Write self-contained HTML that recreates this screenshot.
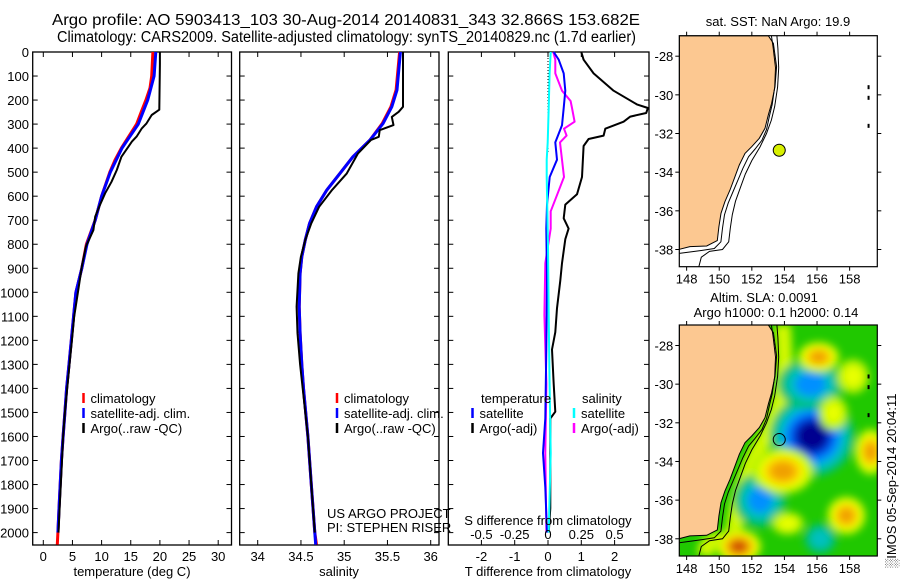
<!DOCTYPE html>
<html><head><meta charset="utf-8"><style>
body{margin:0;background:#fff;}
svg{display:block;font-family:"Liberation Sans",sans-serif;}
text{font-size:13px;fill:#000;}
</style></head><body>
<svg id="fig" width="900" height="580" viewBox="0 0 900 580" xmlns="http://www.w3.org/2000/svg">
<defs>
<filter id="blur" x="-20%" y="-20%" width="140%" height="140%"><feGaussianBlur stdDeviation="4"/></filter>
<clipPath id="mapclip2"><rect x="679.3" y="325" width="198" height="231.7"/></clipPath>
<clipPath id="mapclip1"><rect x="679.3" y="35.7" width="198" height="231"/></clipPath>
</defs>
<text x="52" y="25" textLength="588" lengthAdjust="spacingAndGlyphs" style="font-size:15.5px">Argo profile: AO 5903413_103 30-Aug-2014 20140831_343 32.866S 153.682E</text>
<text x="57" y="42" textLength="579" lengthAdjust="spacingAndGlyphs" style="font-size:15.5px">Climatology: CARS2009. Satellite-adjusted climatology: synTS_20140829.nc (1.7d earlier)</text>
<g id="p1"></g>
<g id="p2"></g>
<g id="p3"></g>
<g id="m1"></g>
<g id="m2"></g>
<text transform="translate(896,568) rotate(-90)">&#x2591;IMOS 05-Sep-2014 20:04:11</text>
</svg>
<script>
// ---- data ----
const depthTicks=[0,100,200,300,400,500,600,700,800,900,1000,1100,1200,1300,1400,1500,1600,1700,1800,1900,2000];
const tempTicks=[0,5,10,15,20,25,30];
const salTicks=[34,34.5,35,35.5,36];
const salTickLabels=["34","34.5","35","35.5","36"];
const tdiffTicks=[-2,-1,0,1,2];
const sdiffTicks=[-0.5,-0.25,0,0.25,0.5];
const sdiffTickLabels=["-0.5","-0.25","0","0.25","0.5"];

const climDepth=[0,100,150,200,250,300,350,400,450,500,600,700,800,900,1000,1100,1200,1300,1400,1500,1600,1700,1800,1900,2000,2050];
const climTemp=[18.8,18.6,18.3,17.6,16.8,16.0,14.7,13.4,12.3,11.4,10.0,8.9,7.4,6.6,5.6,5.2,4.8,4.4,4.0,3.7,3.4,3.1,2.9,2.7,2.5,2.4];
const satDepth=[0,100,200,300,400,500,600,700,800,900,1000,1100,1200,1300,1400,1500,1600,1700,1800,1900,2000];
const satTemp=[19.3,19.0,17.9,16.3,13.5,11.5,10.0,8.9,7.5,6.6,5.6,5.2,4.8,4.4,4.0,3.7,3.4,3.1,2.9,2.7,2.5];
const argoDepth=[0,50,240,262,297,318,352,373,394,436,491,540,588,637,685,741,810,893,990,1100,1200,1300,1400,1500,1600,1700,1800,1900,2000];
const argoTemp=[20.0,20.0,19.9,18.6,17.7,16.9,16.0,15.2,14.6,13.4,12.6,11.7,10.6,9.7,8.9,8.6,7.3,6.6,6.0,5.3,4.9,4.5,4.1,3.7,3.4,3.2,3.0,2.8,2.6];

const sClimDepth=[0,158,228,297,366,436,505,574,644,713,782,852,921,1060,1170,1300,1400,1600,1800,2000,2050];
const sClim=[35.64,35.60,35.54,35.44,35.30,35.10,34.95,34.80,34.68,34.60,34.55,34.51,34.49,34.48,34.49,34.51,34.53,34.58,34.62,34.66,34.68];
const sSat=[35.65,35.61,35.55,35.45,35.30,35.10,34.95,34.80,34.68,34.60,34.55,34.51,34.49,34.48,34.49,34.51,34.53,34.58,34.62,34.66,34.67];
const sArgoDepth=[0,228,249,270,304,325,353,366,422,505,574,644,713,782,852,921,1060,1170,1300,1400,1600,1800,2000];
const sArgo=[35.68,35.68,35.63,35.55,35.57,35.41,35.40,35.31,35.16,35.03,34.86,34.71,34.62,34.55,34.50,34.47,34.45,34.46,34.49,34.52,34.58,34.62,34.66];

const dtArgoDepth=[0,32,89,161,218,233,254,269,290,319,348,362,391,520,592,635,692,735,779,879,951,1066,1166,1238,1382,1497,1525,1669,1899,2000];
const dtArgo=[1.0,1.07,1.37,1.97,2.67,3.0,2.95,2.47,2.27,1.72,1.67,1.22,1.07,1.02,0.87,0.52,0.47,0.62,0.52,0.42,0.37,0.27,0.22,0.12,0.17,0.22,0.07,0.07,0.07,0.02];
const dtSatDepth=[0,32,89,161,233,305,376,448,520,635,735,951,1238,1525,1669,1812,2000];
const dtSat=[0.17,0.32,0.47,0.52,0.47,0.42,0.22,0.27,0.05,-0.03,-0.05,-0.03,-0.05,-0.08,-0.15,-0.08,-0.03];
const dsArgoDepth=[0,32,89,161,204,233,290,319,348,376,448,520,592,663,735,879,1095,1382,1669,2000];
const dsArgo=[0.04,0.055,0.055,0.105,0.17,0.18,0.2,0.12,0.14,0.09,0.105,0.12,0.07,0.02,0.02,-0.02,-0.027,-0.012,-0.02,-0.012];
const dsSatDepth=[0,89,233,376,448,520,807,1095,1382,1669,2000];
const dsSat=[0.02,0.012,0.005,-0.002,-0.01,-0.01,0,0.005,0.012,0.02,0.005];

const latTicks=[-28,-30,-32,-34,-36,-38];
const lonTicks=[148,150,152,154,156,158];
const coastLon=[153.01,153.32,153.52,153.42,153.21,153.01,152.81,152.46,151.99,151.58,151.23,150.97,150.66,150.35,150.11,149.98,149.88,149.23,148.2,147.55];
const coastLat=[-26.94,-27.34,-28.54,-29.58,-30.44,-31.04,-31.73,-32.25,-32.68,-33.03,-33.63,-34.23,-34.92,-35.53,-36.13,-36.82,-37.54,-37.82,-37.85,-37.99];
const iso1Lon=[153.2,153.3,153.45,153.4,153.25,153.08,152.9,152.62,152.2,151.8,151.45,151.15,150.85,150.55,150.32,150.2,150.1,149.7,148.9,147.55];
const iso1Lat=[-26.94,-27.5,-28.6,-29.6,-30.5,-31.1,-31.8,-32.35,-32.8,-33.2,-33.8,-34.4,-35.0,-35.6,-36.2,-36.9,-37.6,-37.95,-38.05,-38.2];
const iso2Lon=[153.54,153.6,153.65,153.58,153.4,153.2,152.9,152.5,152.0,151.6,151.3,151.0,150.8,150.68,150.58,150.2,149.4,148.9,148.75];
const iso2Lat=[-26.94,-27.6,-28.6,-29.6,-30.6,-31.3,-32.0,-32.7,-33.4,-34.1,-34.8,-35.5,-36.2,-36.9,-37.6,-38.0,-38.1,-38.4,-38.88];
const argoLon=[153.682];
const argoLat=[-32.866];
// SLA anomaly blobs: lon, lat, value(-1..1), outer radius in degrees lon/lat
const blobLon=[155.7,155.6,152.5,156.2,153.9,156.1,157.8,151.2,159.3,158.2,157.0,154.2];
const blobLat=[-32.7,-30.0,-36.0,-38.0,-34.5,-28.6,-36.8,-38.4,-33.5,-29.6,-31.5,-37.2];
const blobVal=[-1,-0.6,-0.6,-0.4,0.8,0.75,0.75,1.0,0.7,0.4,0.3,0.3];
const blobRx=[2.6,2.0,1.6,1.0,1.9,1.3,1.2,1.4,1.0,1.0,0.9,1.0];
const blobRy=[2.1,1.3,1.4,0.8,1.2,0.8,1.0,0.9,1.2,0.9,0.9,0.6];

// ---- helpers ----
const NS="http://www.w3.org/2000/svg";
function mk(tag,attrs,parent,txt){const e=document.createElementNS(NS,tag);for(const k in attrs)e.setAttribute(k,attrs[k]);if(txt!==undefined)e.textContent=txt;parent.appendChild(e);return e;}
const TOP=52,BOT=545;
const yD=d=>TOP+d*0.2403;

function drawBox(g,x0,x1){
  const r=mk('rect',{x:x0,y:TOP,width:x1-x0,height:BOT-TOP,fill:'none',stroke:'#000','stroke-width':1.3},g);
  
  
  depthTicks.forEach(d=>{
    const t1=mk('line',{x1:x0,x2:x0+5,y1:yD(d),y2:yD(d),stroke:'#000'},g);
    
    
    const t2=mk('line',{x1:x1-5,x2:x1,y1:yD(d),y2:yD(d),stroke:'#000'},g);
    
    
  });
}
function xTicks(g,vals,labels,fx){
  vals.forEach((v,i)=>{
    const x=fx(v);
    mk('line',{x1:x,x2:x,y1:BOT,y2:BOT-5,stroke:'#000'},g);
    mk('line',{x1:x,x2:x,y1:TOP,y2:TOP+5,stroke:'#000'},g);
    const t=mk('text',{x:x,y:BOT+16,'text-anchor':'middle'},g,labels[i]);
    
    
  });
}
function line(g,xs,ds,fx,color,w,name){
  const pts=xs.map((v,i)=>fx(v).toFixed(1)+','+yD(ds[i]).toFixed(1)).join(' ');
  const p=mk('polyline',{points:pts,fill:'none',stroke:color,'stroke-width':w,'stroke-linejoin':'round'},g);
  
  
}
function legendRow(g,x,y,color,label,name){
  const b=mk('line',{x1:x,x2:x,y1:y-10,y2:y,stroke:color,'stroke-width':2.5},g);
  
  
  const t=mk('text',{x:x+7,y:y},g,label);
  
  
}

// ---- panel 1 ----
const p1=document.getElementById('p1');
const fT=v=>43.3+v*5.83;
drawBox(p1,32.7,231.5);
depthTicks.forEach(d=>{const t=mk('text',{x:29,y:yD(d)+5,'text-anchor':'end'},p1,String(d));
  
  });
xTicks(p1,tempTicks,tempTicks.map(String),fT);
line(p1,climTemp,climDepth,fT,'#ff0000',3,'temp-climatology-line');
line(p1,satTemp,satDepth,fT,'#0000ff',3,'temp-satellite-line');
line(p1,argoTemp,argoDepth,fT,'#000',2,'temp-argo-line');
const xl1=mk('text',{x:132,y:576,'text-anchor':'middle'},p1,'temperature (deg C)');


legendRow(p1,83.5,403,'#ff0000','climatology','legend-climatology');
legendRow(p1,83.5,418,'#0000ff','satellite-adj. clim.','legend-satellite');
legendRow(p1,83.5,433,'#000','Argo(..raw -QC)','legend-argo');

// ---- panel 2 ----
const p2=document.getElementById('p2');
const fS=v=>257.7+(v-34)*86.5;
drawBox(p2,239.7,439);
xTicks(p2,salTicks,salTickLabels,fS);
line(p2,sClim,sClimDepth,fS,'#ff0000',3,'sal-climatology-line');
line(p2,sSat,sClimDepth,fS,'#0000ff',3,'sal-satellite-line');
line(p2,sArgo,sArgoDepth,fS,'#000',2,'sal-argo-line');
const xl2=mk('text',{x:339,y:576,'text-anchor':'middle'},p2,'salinity');


legendRow(p2,337,403,'#ff0000','climatology','legend2-climatology');
legendRow(p2,337,418,'#0000ff','satellite-adj. clim.','legend2-satellite');
legendRow(p2,337,433,'#000','Argo(..raw -QC)','legend2-argo');
const c1=mk('text',{x:327,y:518},p2,'US ARGO PROJECT');


const c2=mk('text',{x:327,y:532},p2,'PI: STEPHEN RISER');



// ---- panel 3 ----
const p3=document.getElementById('p3');
const fdT=v=>548+v*33.3;
const fdS=v=>548+v*133.2;
drawBox(p3,448.3,649);
xTicks(p3,tdiffTicks,tdiffTicks.map(String),fdT);
mk('line',{x1:548,x2:548,y1:TOP,y2:yD(420),stroke:'#000','stroke-dasharray':'1,2'},p3);
line(p3,dtArgo,dtArgoDepth,fdT,'#000',2,'tdiff-argo-line');
line(p3,dsArgo,dsArgoDepth,fdS,'#ff00ff',2,'sdiff-argo-line');
line(p3,dtSat,dtSatDepth,fdT,'#0000ff',2,'tdiff-satellite-line');
line(p3,dsSat,dsSatDepth,fdS,'#00ffff',2,'sdiff-satellite-line');
sdiffTicks.forEach((v,i)=>{const t=mk('text',{x:fdS(v),y:539,'text-anchor':'middle'},p3,sdiffTickLabels[i]);
  
  });
const st=mk('text',{x:548,y:525,'text-anchor':'middle'},p3,'S difference from climatology');


const tt=mk('text',{x:548,y:576,'text-anchor':'middle'},p3,'T difference from climatology');


const lh1=mk('text',{x:481,y:403},p3,'temperature');


const lh2=mk('text',{x:582,y:403},p3,'salinity');


legendRow(p3,472.5,418,'#0000ff','satellite','legend3-t-satellite');
legendRow(p3,472.5,433,'#000','Argo(-adj)','legend3-t-argo');
legendRow(p3,574,418,'#00ffff','satellite','legend3-s-satellite');
legendRow(p3,574,433,'#ff00ff','Argo(-adj)','legend3-s-argo');

// ---- maps ----
const ML=679.3,MR=877.3;
const fLon=v=>ML+(v-147.55)*16.3;
const negCols=['#00c070','#00c0c0','#0090ff','#0040e0','#000090'];
const posCols=['#b0f000','#e8ff00','#ffd000','#f0a000','#d05000'];
function drawMap(g,top,clipId,withSla,title){
  const fLat=v=>top+(-26.94-v)*19.33;
  const H=231;
  const inner=mk('g',{'clip-path':'url(#'+clipId+')'},g);
  const bg=mk('rect',{x:ML,y:top,width:MR-ML,height:H,fill:withSla?'#20c800':'#fff'},inner);
  
  
  if(withSla){
    const bl=mk('g',{filter:'url(#blur)'},inner);
    const strip=mk('polyline',{points:iso2Lon.map((v,i)=>fLon(v+0.35).toFixed(1)+','+fLat(iso2Lat[i]).toFixed(1)).join(' '),fill:'none',stroke:'#d0f800','stroke-width':16},bl);
    
    
    blobVal.forEach((v,i)=>{
      const cx=fLon(blobLon[i]),cy=fLat(blobLat[i]),rx=blobRx[i]*16.3,ry=blobRy[i]*19.33;
      const cols=v<0?negCols:posCols;
      const n=Math.max(1,Math.round(Math.abs(v)*5));
      for(let k=0;k<n;k++){
        const s=1-k/n*0.8;
        const e=mk('ellipse',{cx:cx,cy:cy,rx:rx*s,ry:ry*s,fill:cols[k]},bl);
        
        
      }
    });
  }
  const land=coastLon.map((v,i)=>fLon(v).toFixed(1)+','+fLat(coastLat[i]).toFixed(1));
  land.push(ML+','+fLat(-37.99).toFixed(1),ML+','+top);
  const lp=mk('polygon',{points:land.join(' '),fill:'#fcc891',stroke:'#000','stroke-width':1},inner);
  
  
  [[iso1Lon,iso1Lat],[iso2Lon,iso2Lat]].forEach(a=>{
    const p=mk('polyline',{points:a[0].map((v,i)=>fLon(v).toFixed(1)+','+fLat(a[1][i]).toFixed(1)).join(' '),fill:'none',stroke:'#000','stroke-width':1},inner);
    
    
  });
  [[159.1,-29.5],[159.1,-30.05],[159.1,-31.5]].forEach(q=>mk('rect',{x:fLon(q[0]),y:fLat(q[1]),width:2,height:4,fill:'#000'},inner));
  const dot=mk('circle',{cx:fLon(argoLon[0]),cy:fLat(argoLat[0]),r:6,fill:withSla?'none':'#d8f000',stroke:'#000','stroke-width':1},g);
  
  
  const fr=mk('rect',{x:ML,y:top,width:MR-ML,height:H,fill:'none',stroke:'#000','stroke-width':1.2},g);
  
  
  latTicks.forEach(v=>{
    const y=fLat(v);
    mk('line',{x1:ML-4,x2:ML,y1:y,y2:y,stroke:'#000'},g);
    mk('line',{x1:MR,x2:MR+4,y1:y,y2:y,stroke:'#000'},g);
    const t=mk('text',{x:ML-6,y:y+5,'text-anchor':'end'},g,String(v));
    
    
  });
  lonTicks.forEach(v=>{
    const x=fLon(v);
    mk('line',{x1:x,x2:x,y1:top-4,y2:top,stroke:'#000'},g);
    mk('line',{x1:x,x2:x,y1:top+H,y2:top+H+4,stroke:'#000'},g);
    const t=mk('text',{x:x,y:top+H+17,'text-anchor':'middle'},g,String(v));
    
    
  });
  title.forEach((s,i)=>{
    const t=mk('text',{x:s[1],y:s[2],'text-anchor':'middle'},g,s[0]);
    
    
  });
}
drawMap(document.getElementById('m1'),35.7,'mapclip1',false,[['sat. SST: NaN Argo: 19.9',778,26]]);
drawMap(document.getElementById('m2'),325,'mapclip2',true,[['Altim. SLA: 0.0091',764,302],['Argo h1000: 0.1 h2000: 0.14',776,317]]);
</script>
</body></html>
